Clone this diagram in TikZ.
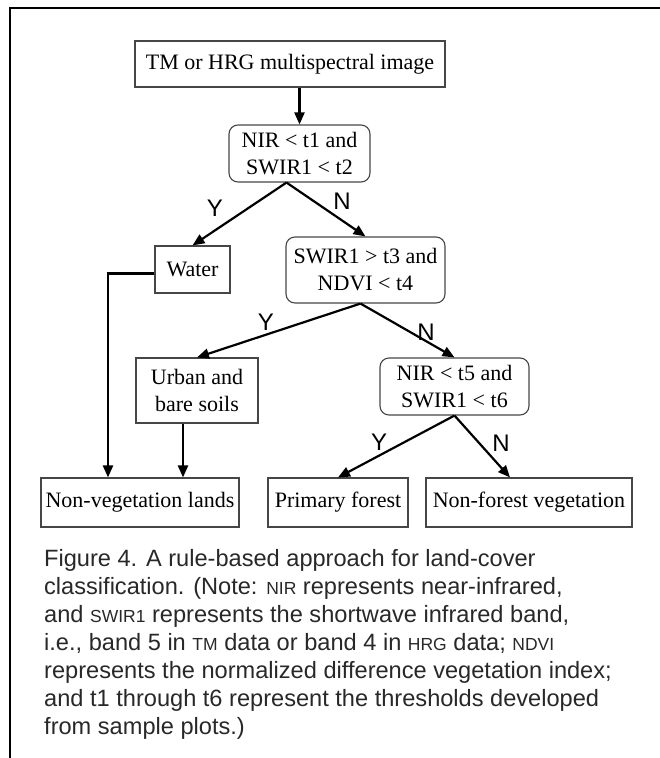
\documentclass[tikz,border=0pt]{standalone}
\usepackage{fontspec}
\setmainfont{Liberation Serif}
\newfontfamily\capfont{Liberation Sans}
\usetikzlibrary{arrows.meta}
\definecolor{BoxLine}{RGB}{70,70,70}
\definecolor{CapText}{RGB}{40,40,40}
\newcommand{\acr}[1]{{\fontsize{17.5}{28}\selectfont #1}}

\begin{document}
\begin{tikzpicture}[
    x=1pt, y=-1pt,
    every node/.style={font=\fontsize{22}{27}\selectfont, inner sep=0pt, align=center},
    leaf/.style={draw=BoxLine, line width=1.1pt},
    rule/.style={leaf, rounded corners=9pt},
    arr/.style={line width=2.2pt, -{Triangle[length=12pt,width=10pt]}},
    yn/.style={font=\capfont\fontsize{24}{24}\selectfont},
]
\useasboundingbox (0,0) rectangle (660,758);
\draw[line width=1.4pt] (660,8) -- (10,8) -- (10,758);

% boxes
\node[leaf, minimum width=310pt, minimum height=46pt] (img) at (290,64) {TM or HRG multispectral image};
\node[rule, minimum width=141pt, minimum height=57pt] (nirA) at (299.5,153.5) {NIR < t1 and\\SWIR1 < t2};
\node[leaf, minimum width=75pt, minimum height=47pt] (water) at (192.5,269.5) {Water};
\node[rule, minimum width=159pt, minimum height=66pt] (swir) at (365.5,270) {SWIR1 > t3 and\\NDVI < t4};
\node[leaf, minimum width=122pt, minimum height=65pt] (urban) at (197,390.5) {Urban and\\bare soils};
\node[rule, minimum width=149pt, minimum height=57pt] (nirB) at (454.5,386.5) {NIR < t5 and\\SWIR1 < t6};
\node[leaf, minimum width=198pt, minimum height=49pt] (nonveg) at (140,502.5) {Non-vegetation lands};
\node[leaf, minimum width=140pt, minimum height=49pt] (primary) at (338,502.5) {Primary forest};
\node[leaf, minimum width=206pt, minimum height=49pt] (nonforest) at (529,502.5) {Non-forest vegetation};

% arrows
\draw[arr] (img.south -| nirA.north) -- (nirA.north);
\draw[arr] ([xshift=-13pt]nirA.south) -- (water.north);
\draw[arr] ([xshift=-13pt]nirA.south) -- (swir.north);
\draw[arr] ([xshift=-5pt]swir.south) -- (urban.north);
\draw[arr] ([xshift=-5pt]swir.south) -- (nirB.north);
\draw[arr] ([yshift=-4pt]water.west) -| ([xshift=-32pt]nonveg.north);
\draw[arr] ([xshift=-14pt]urban.south) -- ([xshift=-14pt]urban.south |- nonveg.north);
\draw[arr] (nirB.south) -- (primary.north);
\draw[arr] (nirB.south) -- ([xshift=-19pt]nonforest.north);

% Y / N labels
\node[yn] (yA) at (215,208) {Y};
\node[yn] (nA) at (342,201) {N};
\node[yn] (yB) at (266,322) {Y};
\node[yn] (nB) at (426,332) {N};
\node[yn] (yC) at (379,442) {Y};
\node[yn] (nC) at (501,443) {N};

% caption
\node[font=\capfont\fontsize{23.6}{28}\selectfont, text=CapText, align=left, anchor=north west] (caption) at (44,549)
  {Figure 4. A rule-based approach for land-cover\\
   classification. (Note: \acr{NIR} represents near-infrared,\\
   and \acr{SWIR1} represents the shortwave infrared band,\\
   i.e., band 5 in \acr{TM} data or band 4 in \acr{HRG} data; \acr{NDVI}\\
   represents the normalized difference vegetation index;\\
   and t1 through t6 represent the thresholds developed\\
   from sample plots.)};
\end{tikzpicture}
\end{document}
